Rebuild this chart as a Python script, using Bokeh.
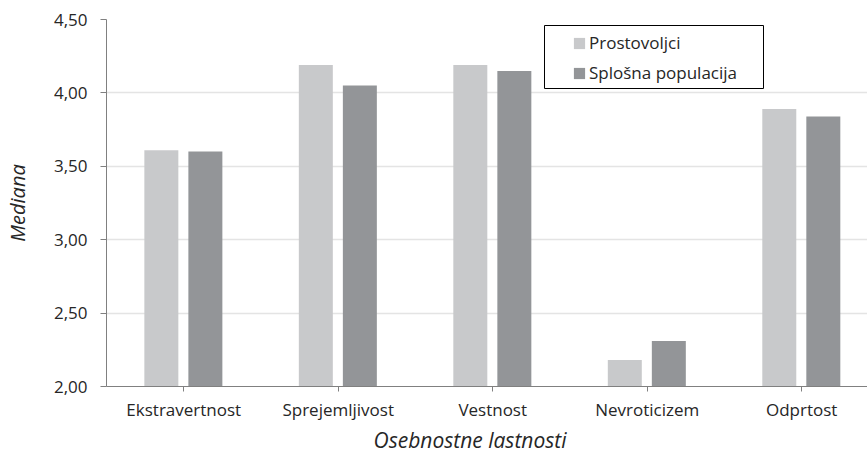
import numpy as np
from bokeh.plotting import figure
from bokeh.models import (Range1d, FixedTicker, CustomJSTickFormatter, ColumnDataSource,
                          Legend, LegendItem, BoxAnnotation, Title)
from bokeh.transform import dodge
from bokeh.embed import file_html
from bokeh.resources import INLINE

categories = ["Ekstravertnost", "Sprejemljivost", "Vestnost", "Nevroticizem", "Odprtost"]
prostovoljci = [3.61, 4.19, 4.19, 2.18, 3.89]
splosna = [3.60, 4.05, 4.15, 2.31, 3.84]
series_names = ["Prostovoljci", "Splošna populacija"]
y_ticks = [2.0, 2.5, 3.0, 3.5, 4.0, 4.5]
x_title = "Osebnostne lastnosti"
y_title = "Mediana"

FONT = "Open Sans"
LIGHT = "#c8c9cb"
DARK = "#939598"
TXT = "#262626"

centers = np.arange(len(categories)) + 0.5
src = ColumnDataSource(dict(x=centers, a=prostovoljci, b=splosna))

p = figure(width=867, height=453, output_backend="svg", toolbar_location=None,
           x_range=Range1d(0, 4.926), y_range=Range1d(y_ticks[0], y_ticks[-1]),
           min_border_left=106, min_border_right=0, min_border_top=19, min_border_bottom=0)
p.outline_line_color = None
p.background_fill_color = "white"

r1 = p.vbar(x=dodge("x", -0.145, range=p.x_range), top="a", bottom=y_ticks[0], width=0.22,
            source=src, fill_color=LIGHT, line_color=None)
r2 = p.vbar(x=dodge("x", 0.14, range=p.x_range), top="b", bottom=y_ticks[0], width=0.22,
            source=src, fill_color=DARK, line_color=None)

# x axis
p.xaxis.ticker = FixedTicker(ticks=list(centers))
p.xaxis.major_label_overrides = {float(c): n for c, n in zip(centers, categories)}
p.xaxis.minor_tick_line_color = None
p.xaxis.major_tick_in = 0
p.xaxis.major_tick_out = 5
p.xaxis.major_label_standoff = 6

# y axis
p.yaxis.ticker = FixedTicker(ticks=y_ticks)
p.yaxis.formatter = CustomJSTickFormatter(code="return tick.toFixed(2).replace('.', ',');")
p.yaxis.axis_label = y_title
p.yaxis.minor_tick_line_color = None
p.yaxis.major_tick_in = 0
p.yaxis.major_tick_out = 6
p.yaxis.major_label_standoff = 13
p.yaxis.axis_label_standoff = 20

for ax in (p.xaxis, p.yaxis):
    ax.axis_line_color = "#808080"
    ax.major_tick_line_color = "#808080"
    ax.major_label_text_font = FONT
    ax.major_label_text_font_size = "17px"
    ax.major_label_text_color = TXT
    ax.axis_label_text_font = FONT
    ax.axis_label_text_font_size = "20px"
    ax.axis_label_text_font_style = "italic"
    ax.axis_label_text_color = TXT

p.xgrid.grid_line_color = None
p.ygrid.grid_line_color = "#e4e4e4"
p.ygrid.grid_line_width = 1.5

# x axis title as a panel below the axis
p.add_layout(Title(text=x_title, align="left", offset=267, standoff=0,
                   text_font=FONT, text_font_size="21px", text_font_style="italic",
                   text_color=TXT), "below")

box = BoxAnnotation(left=438, right=657, top=361, bottom=298,
                    left_units="screen", right_units="screen",
                    top_units="screen", bottom_units="screen",
                    fill_color="white", fill_alpha=1.0,
                    line_color="#000000", line_width=1, line_alpha=1.0)
p.add_layout(box)

legend = Legend(items=[LegendItem(label=series_names[0], renderers=[r1]),
                       LegendItem(label=series_names[1], renderers=[r2])],
                location=(466, 302), padding=0, margin=0,
                border_line_alpha=0, background_fill_alpha=0,
                glyph_width=14, glyph_height=14, label_standoff=3,
                spacing=7, label_height=20,
                label_text_font=FONT, label_text_font_size="17px",
                label_text_color=TXT)
p.add_layout(legend)

open("out.html", "w").write(file_html(p, INLINE))
